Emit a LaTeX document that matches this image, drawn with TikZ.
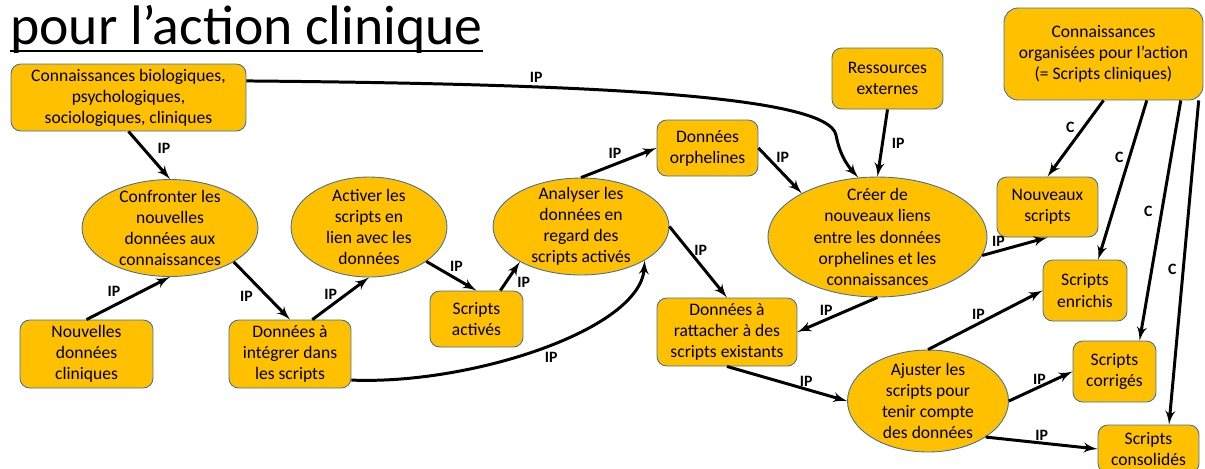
\documentclass[tikz,border=0pt]{standalone}
\usepackage{fontspec}
\setmainfont{Carlito}
\usetikzlibrary{shapes, arrows}
\definecolor{gold}{HTML}{FFC000}
\definecolor{shapeblue}{HTML}{41719C}
\tikzstyle{block} = [rectangle, draw=shapeblue, fill=gold, text centered, align=center,
    rounded corners=5.5pt, line width=0.5pt, inner sep=1pt, font=\fontsize{10}{12}\selectfont]
\tikzstyle{process} = [ellipse, draw=shapeblue, fill=gold, text centered, align=center,
    line width=0.5pt, inner sep=-0.6cm, font=\fontsize{10}{12}\selectfont]
\tikzstyle{line} = [draw, -latex', line width=1.7pt]
\tikzstyle{lbl} = [font=\fontsize{9}{10}\selectfont\bfseries, inner sep=1.5pt]

\begin{document}
\begin{tikzpicture}[x=0.02cm, y=-0.02cm]
        \useasboundingbox (0,0) rectangle (1205,468);
        % Title
        \node [anchor=base west, inner sep=0pt, font=\fontsize{31.7}{36}\selectfont] (title) at (10,44) {pour l’action clinique};
        \draw [line width=1.1pt] ([yshift=-4pt]title.base west) -- ([yshift=-4pt]title.base east);
        % Place nodes
        \node [block, minimum width=4.7cm, minimum height=1.34cm] (knowledge) at (128.5,97.5)
            {Connaissances biologiques,\\psychologiques,\\sociologiques, cliniques};
        \node [process, minimum width=3.52cm, minimum height=1.94cm] (confront) at (170,228)
            {Confronter les\\nouvelles\\données aux\\connaissances};
        \node [block, minimum width=2.66cm, minimum height=1.36cm] (newdata) at (86.5,354)
            {Nouvelles\\données\\cliniques};
        \node [block, minimum width=2.44cm, minimum height=1.36cm] (integrate) at (290,354)
            {Données à\\intégrer dans\\les scripts};
        \node [process, minimum width=3.12cm, minimum height=2cm] (activate) at (369,227)
            {Activer les\\scripts en\\lien avec les\\données};
        \node [block, minimum width=1.86cm, minimum height=1.12cm] (activated) at (476.5,319)
            {Scripts\\activés};
        \node [process, minimum width=3.52cm, minimum height=1.94cm] (analyse) at (581,226.5)
            {Analyser les\\données en\\regard des\\scripts activés};
        \node [block, minimum width=2.02cm, minimum height=1.12cm] (orphans) at (707.5,148)
            {Données\\orphelines};
        \node [block, minimum width=2.8cm, minimum height=1.36cm] (attach) at (727,332)
            {Données à\\rattacher à des\\scripts existants};
        \node [block, minimum width=2.22cm, minimum height=1.22cm] (resources) at (887.5,78.5)
            {Ressources\\externes};
        \node [process, minimum width=4.38cm, minimum height=2.4cm] (create) at (877.5,237)
            {Créer de\\nouveaux liens\\entre les données\\orphelines et les\\connaissances};
        \node [block, minimum width=3.98cm, minimum height=1.84cm, rounded corners=8pt] (organized) at (1103.5,54)
            {Connaissances\\organisées pour l’action\\(= Scripts cliniques)};
        \node [block, minimum width=2.02cm, minimum height=1.2cm] (newscripts) at (1047.5,207)
            {Nouveaux\\scripts};
        \node [block, minimum width=1.68cm, minimum height=1.22cm] (enriched) at (1085,290.5)
            {Scripts\\enrichis};
        \node [block, minimum width=1.66cm, minimum height=1.22cm] (corrected) at (1114.5,371.5)
            {Scripts\\corrigés};
        \node [block, minimum width=2.02cm, minimum height=0.96cm] (consolidated) at (1148.5,449)
            {Scripts\\consolidés};
        \node [process, minimum width=3.22cm, minimum height=2.04cm] (adjust) at (928,401)
            {Ajuster les\\scripts pour\\tenir compte\\des données};
        % Draw edges
        \path [line] (knowledge.south) -- node [lbl, pos=.35, right=6pt] {IP} (confront.north);
        \path [line] (newdata.north) -- node [lbl, pos=.33, above=3pt] {IP} (confront.south);
        \path [line] (confront.-28) -- node [lbl, pos=.6, left=6pt] {IP} (integrate.north);
        \path [line] (integrate.57) -- node [lbl, pos=.6, left=3pt] {IP} (activate.south);
        \path [line] (activate.-31) -- node [lbl, pos=.6, above=2pt] {IP} (activated.north);
        \path [line] (activated.50) -- node [lbl, pos=.3, right=4pt] {IP} (analyse.210);
        \path [line] (integrate.-23) .. controls (470,385) and (640,330) .. node [lbl, pos=.5, below right] {IP} (analyse.-28);
        \path [line] (analyse.north) -- node [lbl, pos=.45, above=1pt] {IP} (orphans.west);
        \path [line] (analyse.east) -- node [lbl, pos=.33, right=1pt] {IP} (attach.north);
        \path [line] (orphans.east) -- node [lbl, pos=.2, right=3pt] {IP} (create.150);
        \path [line] (knowledge.8) .. controls (600,84) and (828,96) .. node [lbl, pos=.31, above] {IP} (836,135)
            .. controls (840,156) and (848,166) .. (create.108);
        \path [line] (resources.south) -- node [lbl, right=3pt] {IP} (create.north);
        \path [line] (create.-10) -- node [lbl, pos=.25, above] {IP} (newscripts.south);
        \path [line] (create.south) -- node [lbl, pos=.64, above] {IP} (attach.east);
        \path [line] (attach.south) -- node [lbl, pos=.66, above=-1pt] {IP} (adjust.west);
        \path [line] (adjust.north) -- node [lbl, pos=.44, above] {IP} (enriched.west);
        \path [line] (adjust.east) -- node [lbl, pos=.48, above=-1pt] {IP} (corrected.west);
        \path [line] (adjust.-32) -- node [lbl, pos=.5, above=-1pt] {IP} (consolidated.west);
        \path [line] (organized.south) -- node [lbl, pos=.35, left=3pt] {C} (newscripts.north);
        \path [line] (organized.-47) -- node [lbl, pos=.36, left=1pt] {C} (enriched.67);
        \path [line] (organized.-31) -- node [lbl, pos=.46, left=3pt] {C} (corrected.51);
        \path [line] (organized.-26) -- node [lbl, pos=.52, left=1.5pt] {C} (consolidated.50);
    \end{tikzpicture}
\end{document}
